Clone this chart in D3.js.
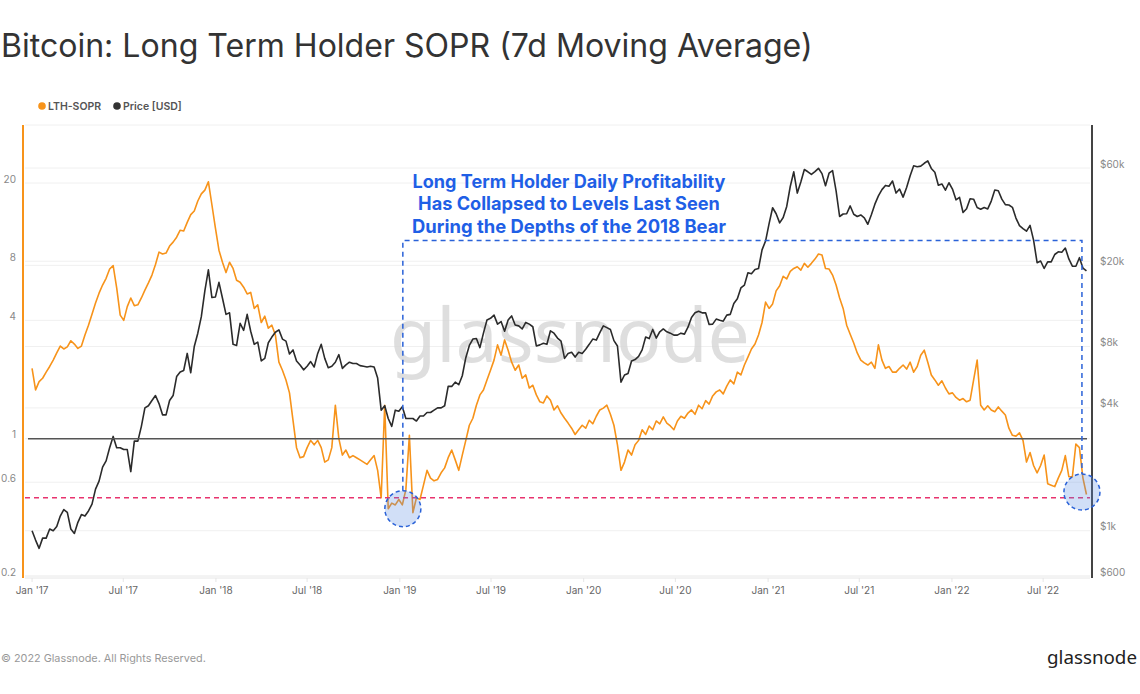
<!DOCTYPE html>
<html><head><meta charset="utf-8">
<script src="https://cdn.jsdelivr.net/npm/d3@7"></script>
<style>html,body{margin:0;padding:0;background:#fff;overflow:hidden;} svg{display:block;}</style>
</head><body><svg id="c" width="1140" height="694"></svg>
<script>
// ---- data (weekly samples starting 2017-01-01) ----
const startDate = "2017-01-01";
const stepDays = 7;

const sopr2017 = [2.28,1.77,1.95,2.03,2.18,2.33,2.51,2.73,2.96,2.86,
  2.93,3.15,3.03,2.88,2.96,3.37,3.78,4.3,4.9,5.5,
  6.05,6.55,7.3,7.6,5.85,4.25,4.0,4.7,5.2,4.75,
  4.8,5.2,5.7,6.2,6.8,7.7,8.9,8.7,8.8,9.55,
  10.0,10.6,11.5,11.4,12.6,13.8,14.4,16.2,17.6,18.4,
  20.3,15.5,11.8];
const sopr2018 = [9.1,7.9,7.0,7.9,7.35,6.4,6.25,5.9,5.45,5.55,
  4.6,4.8,3.9,4.2,3.65,3.78,3.37,2.45,2.23,1.99,
  1.71,1.24,0.9,0.8,0.81,0.9,0.98,0.93,0.98,0.9,
  0.76,0.78,0.9,1.48,1.0,0.825,0.875,0.8,0.82,0.8,
  0.78,0.76,0.74,0.78,0.82,0.69,0.5,1.48,0.44,0.47,
  0.46,0.49];
const sopr2019 = [0.46,0.55,1.04,0.42,0.5,0.49,0.58,0.69,0.63,0.61,
  0.62,0.67,0.71,0.8,0.875,0.78,0.69,0.825,0.98,1.17,
  1.27,1.48,1.67,1.77,1.99,2.23,2.51,3.0,2.66,3.18,
  2.82,2.45,2.23,2.37,2.03,2.11,1.81,1.87,1.67,1.54,
  1.52,1.65,1.57,1.40,1.47,1.35,1.27,1.2,1.13,1.05,
  1.11,1.17];
const sopr2020 = [1.13,1.24,1.19,1.3,1.40,1.43,1.48,1.33,1.17,0.93,
  0.69,0.76,0.875,0.825,0.93,0.98,1.11,1.05,1.16,1.11,
  1.23,1.19,1.29,1.2,1.16,1.11,1.23,1.3,1.27,1.35,
  1.40,1.33,1.48,1.42,1.56,1.5,1.65,1.73,1.77,1.69,
  1.85,1.99,1.9,2.18,2.11,2.37,2.6,2.86,3.03,3.37,
  3.9,4.95];
const sopr2021 = [4.6,4.85,5.65,6.0,6.7,6.5,7.1,7.35,7.5,7.2,
  7.8,7.45,7.8,8.2,8.7,8.6,7.35,7.3,6.8,6.05,
  5.2,4.6,3.78,3.4,3.07,2.73,2.51,2.43,2.37,2.45,
  2.28,3.0,2.51,2.28,2.33,2.18,2.18,2.28,2.37,2.26,
  2.45,2.18,2.33,2.66,2.82,2.45,2.11,1.99,1.87,1.97,
  1.81,1.69];
const sopr2022 = [1.71,1.62,1.57,1.6,1.54,1.57,1.99,2.51,1.48,1.40,
  1.47,1.40,1.37,1.45,1.38,1.32,1.13,1.04,1.03,1.07,
  0.98,0.76,0.85,0.73,0.67,0.73,0.825,0.59,0.58,0.57,
  0.63,0.69,0.82,0.64,0.64,0.94,0.9,0.63,0.52];

const price2017 = [1000,900,820,920,920,1020,1000,1050,1180,1270,
  1230,1020,970,1100,1200,1180,1250,1350,1600,1750,
  2050,2200,2550,2900,2550,2550,2500,2500,1950,2750,
  2750,3250,4000,4100,4350,4600,4200,3700,3700,4350,
  4600,5700,6000,6100,7400,5950,8000,9300,11200,15000,
  19000,13900,14000];
const price2018 = [16500,13800,11500,11700,8200,8100,10400,9600,11500,9500,
  8200,8400,6800,7000,8350,8900,9400,9650,8700,8500,
  7350,7700,6800,6500,6150,6400,6750,6350,7400,8200,
  7000,6300,6400,6700,7300,6250,6500,6700,6600,6600,
  6450,6400,6350,6400,6350,5600,3900,4100,3550,3250,
  3900,3850];
const price2019 = [4050,3550,3550,3550,3450,3650,3650,3800,3800,3900,
  4000,4000,4100,5100,5100,5350,5200,5750,7050,8100,
  8700,8750,7900,9300,10800,11000,11400,10300,10600,9500,
  10800,11300,10200,10100,9750,10500,10300,10000,8050,8150,
  8300,8200,9550,9300,8800,8500,7000,7400,7500,7100,
  7500,7400];
const price2020 = [7750,8200,8700,8600,9350,10100,9900,9700,8550,8050,
  5350,5800,5900,6800,6900,7150,7700,8900,8750,9700,
  8800,9450,9750,9450,9300,9100,9100,9300,9200,9950,
  11100,11700,11900,11700,11700,10250,10300,10900,10750,10650,
  11400,11500,13000,13700,15500,16000,18400,18200,19100,19300,
  23800,26300];
const price2021 = [32000,38300,35800,32300,34300,38900,48700,57500,45200,51200,
  59000,57500,55800,57600,59800,56300,49100,56600,58300,46400,
  34700,35700,35800,39100,35600,34700,35300,34200,31800,35400,
  39900,43800,47000,49300,48800,51800,45200,47300,43200,48200,
  55000,61500,60900,61300,63300,65000,59700,57200,49400,50100,
  46700,50800];
const price2022 = [47300,41900,43100,36300,37900,42400,42200,38400,37700,38400,
  37800,41300,46800,46400,42200,39700,39500,38500,34100,31300,
  30300,29400,31400,26600,20600,21000,19300,20800,20800,22600,
  23300,23200,24300,21500,19800,19800,21800,19400,18800];

const leftTicks = [0.2, 0.6, 1, 4, 8, 20];
const leftTickLabels = ["0.2", "0.6", "1", "4", "8", "20"];
const rightTicks = [600, 1000, 4000, 8000, 20000, 60000];
const rightTickLabels = ["$600", "$1k", "$4k", "$8k", "$20k", "$60k"];
const xTickDates = ["2017-01-01","2017-07-01","2018-01-01","2018-07-01","2019-01-01","2019-07-01",
  "2020-01-01","2020-07-01","2021-01-01","2021-07-01","2022-01-01","2022-07-01"];
const xTickLabels = ["Jan '17","Jul '17","Jan '18","Jul '18","Jan '19","Jul '19",
  "Jan '20","Jul '20","Jan '21","Jul '21","Jan '22","Jul '22"];
const breakEven = 1;
const bearLevel = 0.5;
const highlightDates = ["2019-01-07", "2022-09-16"];
const highlightValues = [0.44, 0.535];
const boxTopValue = 10.2;
const annotationLines = ["Long Term Holder Daily Profitability",
  "Has Collapsed to Levels Last Seen",
  "During the Depths of the 2018 Bear"];

// ---- build ----
const soprVals = [].concat(sopr2017, sopr2018, sopr2019, sopr2020, sopr2021, sopr2022);
const priceVals = [].concat(price2017, price2018, price2019, price2020, price2021, price2022);
const t0 = new Date(startDate + "T00:00:00Z");
const dates = soprVals.map((_, i) => d3.utcDay.offset(t0, i * stepDays));
const sopr = soprVals.map((v, i) => ({d: dates[i], v}));
const price = priceVals.map((v, i) => ({d: dates[i], v}));

const W = 1140, H = 694;
const plot = {l: 25, r: 1090, t: 125, b: 578};
const svg = d3.select("#c");
svg.append("rect").attr("width", W).attr("height", H).attr("fill", "#fff");

const x = d3.scaleUtc().domain([new Date("2016-12-18T00:00:00Z"), new Date("2022-10-02T00:00:00Z")]).range([plot.l, plot.r]);
const yL = d3.scaleLog().domain([0.2, 20]).range([576, 183]);
const yR = d3.scaleLog().domain([600, 60000]).range([576, 168]);

const FONT = "Inter, 'Noto Sans', sans-serif";
function fit(sel, target) {
  const w = sel.node().getComputedTextLength();
  const fs = parseFloat(sel.attr("font-size"));
  sel.attr("font-size", (fs * target / w).toFixed(2));
}

// title
const title = svg.append("text").attr("x", 1).attr("y", 57).attr("font-family", FONT)
  .attr("font-size", 28).attr("fill", "#333").text("Bitcoin: Long Term Holder SOPR (7d Moving Average)");
fit(title, 812);

// legend
const lg = svg.append("g").attr("font-family", FONT).attr("font-size", 10.5).attr("font-weight", 600).attr("fill", "#555");
lg.append("circle").attr("cx", 42).attr("cy", 106).attr("r", 3.8).attr("fill", "#f7931a");
lg.append("text").attr("x", 48).attr("y", 109.5).text("LTH-SOPR");
lg.append("circle").attr("cx", 117).attr("cy", 106).attr("r", 3.8).attr("fill", "#333");
lg.append("text").attr("x", 123).attr("y", 109.5).text("Price [USD]");

// gridlines
const grid = svg.append("g").attr("stroke", "#f0f0f0").attr("stroke-width", 1);
leftTicks.forEach(t => grid.append("line").attr("x1", plot.l).attr("x2", plot.r).attr("y1", yL(t)).attr("y2", yL(t)));
rightTicks.forEach(t => grid.append("line").attr("x1", plot.l).attr("x2", plot.r).attr("y1", yR(t)).attr("y2", yR(t)));
svg.append("line").attr("x1", plot.l).attr("x2", plot.r).attr("y1", plot.b).attr("y2", plot.b).attr("stroke", "#e6e6e6");
svg.append("line").attr("x1", plot.l).attr("x2", plot.r).attr("y1", plot.t).attr("y2", plot.t).attr("stroke", "#f0f0f0");

// watermark
const wm = svg.append("text").attr("x", 570).attr("y", 362).attr("text-anchor", "middle")
  .attr("font-family", "'Noto Sans', sans-serif").attr("font-size", 64).attr("fill", "#d4d4d4").attr("opacity", 0.75)
  .text("glassnode");
fit(wm, 360);

// axes lines
svg.append("line").attr("x1", 23).attr("x2", 23).attr("y1", plot.t).attr("y2", plot.b).attr("stroke", "#f7931a").attr("stroke-width", 2);
svg.append("line").attr("x1", 1092).attr("x2", 1092).attr("y1", plot.t).attr("y2", plot.b).attr("stroke", "#444").attr("stroke-width", 2);

// left ticks
const lt = svg.append("g").attr("font-family", FONT).attr("font-size", 10).attr("fill", "#888").attr("text-anchor", "end");
leftTicks.forEach((t, i) => lt.append("text").attr("x", 16).attr("y", yL(t) - 0.5).text(leftTickLabels[i]));
// right ticks
const rt = svg.append("g").attr("font-family", FONT).attr("font-size", 10).attr("fill", "#888");
rightTicks.forEach((t, i) => rt.append("text").attr("x", 1100).attr("y", yR(t) - 0.5).text(rightTickLabels[i]));
// x ticks
const xt = svg.append("g").attr("font-family", FONT).attr("font-size", 10).attr("fill", "#666").attr("text-anchor", "middle");
xTickDates.forEach((d, i) => {
  const xx = x(new Date(d + "T00:00:00Z"));
  svg.append("line").attr("x1", xx).attr("x2", xx).attr("y1", plot.b).attr("y2", plot.b + 4).attr("stroke", "#e6e6e6");
  xt.append("text").attr("x", xx).attr("y", 594).text(xTickLabels[i]);
});

// series
const lineL = d3.line().x(d => x(d.d)).y(d => yL(d.v)).curve(d3.curveLinear);
const lineR = d3.line().x(d => x(d.d)).y(d => yR(d.v)).curve(d3.curveLinear);
svg.append("path").datum(sopr).attr("d", lineL).attr("fill", "none").attr("stroke", "#f7931a").attr("stroke-width", 1.6).attr("stroke-linejoin", "round");
svg.append("path").datum(price).attr("d", lineR).attr("fill", "none").attr("stroke", "#2b2b2b").attr("stroke-width", 1.6).attr("stroke-linejoin", "round");

// reference lines
svg.append("line").attr("x1", 28).attr("x2", 1087).attr("y1", yL(breakEven)).attr("y2", yL(breakEven)).attr("stroke", "#555").attr("stroke-width", 1.5);
svg.append("line").attr("x1", plot.l).attr("x2", plot.r).attr("y1", yL(bearLevel)).attr("y2", yL(bearLevel))
  .attr("stroke", "#e8336e").attr("stroke-width", 1.5).attr("stroke-dasharray", "5,4");

// highlight circles and box
const blue = "#2a62d8";
const hx = highlightDates.map(d => x(new Date(d + "T00:00:00Z")));
const hy = highlightValues.map(v => yL(v));
const R = 18;
hx.forEach((cx, i) => {
  svg.append("circle").attr("cx", cx).attr("cy", hy[i]).attr("r", R).attr("fill", "rgba(90,140,225,0.28)")
    .attr("stroke", blue).attr("stroke-width", 1.5).attr("stroke-dasharray", "4,3");
});
const by = yL(boxTopValue);
svg.append("path").attr("d", `M${hx[0]},${hy[0] - R}V${by}H${hx[1]}V${hy[1] - R}`)
  .attr("fill", "none").attr("stroke", blue).attr("stroke-width", 1.5).attr("stroke-dasharray", "5,4");

// annotation
const an = svg.append("g").attr("font-family", FONT).attr("font-weight", 700).attr("fill", "#1f5fe6").attr("text-anchor", "middle");
const annW = [313, 302, 314];
annotationLines.forEach((s, i) => {
  const t = an.append("text").attr("x", 569).attr("y", 188 + i * 22.3).attr("font-size", 16.5).text(s);
  fit(t, annW[i]);
});

// footer
const ft = svg.append("text").attr("x", 1).attr("y", 662).attr("font-family", FONT).attr("font-size", 12).attr("fill", "#999")
  .text("© 2022 Glassnode. All Rights Reserved.");
fit(ft, 205);
const logo = svg.append("text").attr("x", 1047).attr("y", 664).attr("font-family", "'Noto Sans', sans-serif").attr("font-size", 21).attr("fill", "#222")
  .text("glassnode");
fit(logo, 90);
</script>
</body></html>
